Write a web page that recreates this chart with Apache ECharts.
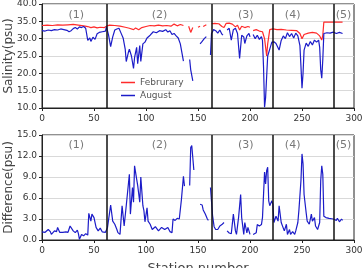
<!DOCTYPE html>
<html>
<head>
<meta charset="utf-8">
<script src="https://cdn.jsdelivr.net/npm/echarts@6/dist/echarts.min.js"></script>
<style>
  html, body { margin: 0; padding: 0; background: #fff; }
  #main { width: 362px; height: 268px; }
</style>
</head>
<body>
<div id="main"></div>
<script>
// station numbers and salinity (null = no data)
var febX = [0,5,10,15,20,25,30,35,40,44,47,50,53,56,60,62,65,70,75,80,84,88,90,93,96,100,104,108,112,116,120,124,127,130,133,136,137,141,143,145,146,150,152,153,155,158,159,
  163,166,170,173,175,177,180,183,186,188,190,192,195,198,200,201,203,206,209,212,214,216,217,219,222,226,230,235,240,245,248,250,252,256,260,264,267,269,270,271,275,280,285,289];
var febY = [33.8,33.9,33.8,34.0,33.9,34.0,34.1,33.9,33.7,33.5,33.2,33.4,33.1,33.3,33.2,33.6,33.9,33.8,33.6,33.3,33.0,32.6,33.1,32.6,33.2,33.5,33.8,33.7,33.9,33.7,33.8,33.6,34.2,33.7,34.1,33.8,null,33.6,31.8,33.2,null,33.3,33.6,null,33.5,34.0,null,
  34.3,34.4,34.3,33.5,33.2,34.4,34.5,34.2,33.4,33.9,32.5,33.6,33.2,33.5,33.3,null,32.3,32.6,32.2,32.0,30.0,25.0,28.5,32.6,32.8,32.6,32.7,32.5,32.4,32.3,31.5,30.0,31.2,31.6,31.8,31.6,30.8,29.6,31.0,34.8,34.8,34.8,34.8,34.8];

var augX = [0,3,6,9,12,15,18,21,24,26,28,30,32,34,36,38,40,42,44,46,47,49,51,53,55,58,61,62,64,66,68,70,72,74,76,78,80,81,83,84,86,88,89,91,92,94,95,97,99,101,104,107,110,113,116,119,121,123,125,127,129,131,133,134,136,137,
  142,143,145,146,152,154,156,158,159,162,163,165,167,169,171,173,174,175,178,180,182,184,186,188,190,192,194,195,197,199,200,201,203,205,207,209,211,212,213,214,215,216,217,219,221,
  223,225,228,230,232,234,236,238,240,242,244,246,248,249,250,251,252,254,256,258,260,262,264,266,267,268,269,270,271,274,277,280,283,286,289];
var augY = [32.3,32.2,32.5,32.3,32.6,32.5,32.8,32.6,32.4,32.0,32.3,32.9,33.2,32.8,33.4,33.2,33.5,33.0,29.5,30.2,29.2,30.4,29.8,31.4,31.8,32.0,32.2,33.5,31.0,27.7,30.5,32.5,32.8,33.0,31.6,30.2,27.0,23.4,26.0,27.0,25.0,21.4,24.5,27.5,22.8,28.0,23.4,28.5,29.0,30.2,31.0,32.0,31.7,32.3,32.1,32.6,31.9,32.3,31.2,31.5,30.8,30.2,28.5,29.0,23.5,null,
  24.0,21.0,17.8,null,28.5,29.2,30.0,30.6,null,25.3,31.5,32.6,32.3,31.6,32.5,31.3,31.0,null,32.5,33.0,29.6,32.6,33.0,31.5,24.3,31.0,30.5,28.6,30.8,31.5,30.5,null,31.2,30.0,31.0,29.8,30.6,29.5,22.0,10.2,13.0,19.0,25.0,27.0,29.0,
  29.1,28.6,26.7,29.5,30.8,30.0,31.7,30.6,31.5,30.2,31.6,30.8,28.0,22.0,15.7,20.0,26.7,28.7,27.8,29.2,28.2,29.6,29.0,29.6,27.5,21.0,18.6,24.0,31.5,31.7,31.6,31.9,31.5,31.8,31.5];

var diffX = [0,3,6,8,9,12,14,15,17,20,23,25,27,30,32,34,35,36,38,40,42,44,45,47,48,50,52,54,56,58,61,62,63,66,68,70,72,73,75,77,79,81,82,84,85,87,88,89,91,92,94,95,97,98,99,101,102,104,106,109,112,115,118,121,123,125,126,128,130,132,134,136,137,138,
  142,143,144,146,147,152,153,154,155,157,159,160,161,162,164,165.5,167,169,171,173,175,176,178,180,182,183,184,186,187,189,191,192,194,195,197,198,200,201,203,206,207,209,211,212,214,215,216,217,218,219,221,222,
  223,225,227,228,230,231,233,235,236,238,239,241,243,244,246,247,249,250,251,252,254,255,257,259,260,262,263,265,267,268,269,270,271,273,276,280,283,284,286,288,289];
var diffY = [1.15,1.1,1.5,1.2,0.8,1.3,1.2,1.8,1.1,1.1,1.15,1.1,2.0,1.3,1.05,1.4,0.9,0.1,0.8,0.6,0.9,0.7,3.8,2.7,3.7,3.2,1.8,1.3,1.7,1.15,1.1,1.05,1.8,5.0,2.7,2.25,1.5,1.05,0.8,4.9,2.0,4.9,5.0,9.4,3.7,7.5,5.4,10.6,8.7,7.8,5.4,9.0,4.9,4.2,2.6,4.6,2.7,2.25,1.5,1.9,1.3,1.8,1.5,1.8,1.2,1.05,3.0,2.8,3.1,3.0,5.7,9.1,7.7,null,
  7.8,13.2,13.5,10.0,null,5.1,4.9,5.0,4.3,3.7,3.0,2.8,null,7.5,3.5,1.9,1.5,1.5,2.0,2.2,2.5,null,1.3,1.0,0.9,1.0,3.7,1.3,0.8,3.2,6.5,3.2,0.8,2.5,1.0,1.8,0.8,null,0.8,1.05,2.2,2.0,2.2,3.2,9.7,8.0,9.9,10.4,5.6,4.9,5.6,5.1,
  2.5,3.4,2.7,4.9,2.5,2.25,1.3,2.25,0.8,1.5,0.8,1.2,0.8,1.3,2.5,4.2,8.5,12.3,10.9,6.5,3.9,2.7,2.25,3.7,2.7,3.2,2.0,1.5,2.5,8.5,10.6,9.4,3.4,3.2,3.1,3.0,2.8,3.1,2.6,3.0,2.8];

var sectionBreaks = [62, 163, 222, 281];
var sectionNames = ['(1)', '(2)', '(3)', '(4)', '(5)'];
var sectionMid = [33, 113, 196, 241, 290];

function pairs(xs, ys) {
  return xs.map(function (x, i) { return [x, ys[i] == null ? '-' : ys[i]]; });
}

var axisColor = '#222';
var textColor = '#444';

function xAxisCfg(idx, name) {
  return {
    gridIndex: idx, type: 'value', min: 0, max: 300, interval: 50,
    name: name || '', nameLocation: 'middle', nameGap: 22,
    nameTextStyle: { fontSize: 13, color: textColor, fontFamily: 'DejaVu Sans' },
    axisLine: { show: true, onZero: false, lineStyle: { color: axisColor, width: 1 } },
    axisTick: { show: true, length: 3, lineStyle: { color: axisColor } },
    axisLabel: { fontSize: 9, color: '#333', margin: 6 },
    splitLine: { show: false }
  };
}
function yAxisCfg(idx, name, max, interval) {
  return {
    gridIndex: idx, type: 'value', min: idx === 0 ? 10 : 0, max: max, interval: interval,
    name: name, nameLocation: 'middle', nameGap: 27, nameMoveOverlap: false,
    nameTextStyle: { fontSize: 12, color: textColor, fontFamily: 'DejaVu Sans' },
    axisLine: { show: true, lineStyle: { color: axisColor, width: 1 } },
    axisTick: { show: true, length: 3, lineStyle: { color: axisColor } },
    axisLabel: { fontSize: 9, color: '#333', margin: 5, formatter: function (v) { return v.toFixed(1); } },
    splitLine: { show: true, lineStyle: { color: '#d9d9d9', width: 1 } }
  };
}

function breakLines() {
  return {
    silent: true, symbol: 'none', animation: false,
    label: { show: false },
    lineStyle: { color: '#111', width: 1.5, type: 'solid' },
    data: sectionBreaks.map(function (b) { return { xAxis: b }; })
  };
}

function labelSeries(xi, yi, yVal) {
  return {
    type: 'scatter', xAxisIndex: xi, yAxisIndex: yi, symbolSize: 0, silent: true,
    data: sectionMid.map(function (m, i) { return { value: [m, yVal], name: sectionNames[i] }; }),
    label: { show: true, position: 'inside', formatter: '{b}', fontSize: 11, color: '#555' }
  };
}

var myChart = echarts.init(document.getElementById('main'));
var option = {
  backgroundColor: '#fff',
  animation: false,
  textStyle: { fontFamily: 'DejaVu Sans' },
  grid: [
    { left: 42, top: 4, width: 312, height: 104, show: true, borderColor: axisColor, borderWidth: 1, outerBoundsMode: 'none', containLabel: false },
    { left: 42, top: 135, width: 312, height: 105, show: true, borderColor: axisColor, borderWidth: 1, outerBoundsMode: 'none', containLabel: false }
  ],
  legend: {
    data: ['Februrary', 'August'],
    orient: 'vertical', left: 116, top: 73, itemGap: 4,
    icon: 'rect', itemWidth: 14, itemHeight: 1.5,
    textStyle: { fontSize: 9, color: '#555' }
  },
  xAxis: [xAxisCfg(0), xAxisCfg(1, 'Station number')],
  yAxis: [yAxisCfg(0, 'Salinity(psu)', 40, 5), yAxisCfg(1, 'Difference(psu)', 15, 3)],
  series: [
    {
      name: 'Februrary', type: 'line', xAxisIndex: 0, yAxisIndex: 0,
      data: pairs(febX, febY), showSymbol: false, connectNulls: false,
      lineStyle: { color: '#ff2b2b', width: 1.2 }, itemStyle: { color: '#ff2b2b' },
      markLine: breakLines()
    },
    {
      name: 'August', type: 'line', xAxisIndex: 0, yAxisIndex: 0,
      data: pairs(augX, augY), showSymbol: false, connectNulls: false,
      lineStyle: { color: '#1c1cc8', width: 1.2 }, itemStyle: { color: '#1c1cc8' }
    },
    {
      name: 'Difference', type: 'line', xAxisIndex: 1, yAxisIndex: 1,
      data: pairs(diffX, diffY), showSymbol: false, connectNulls: false,
      lineStyle: { color: '#1c1cc8', width: 1.2 }, itemStyle: { color: '#1c1cc8' },
      markLine: breakLines()
    },
    labelSeries(0, 0, 36.8),
    labelSeries(1, 1, 13.6)
  ]
};
myChart.setOption(option);
</script>
</body>
</html>
